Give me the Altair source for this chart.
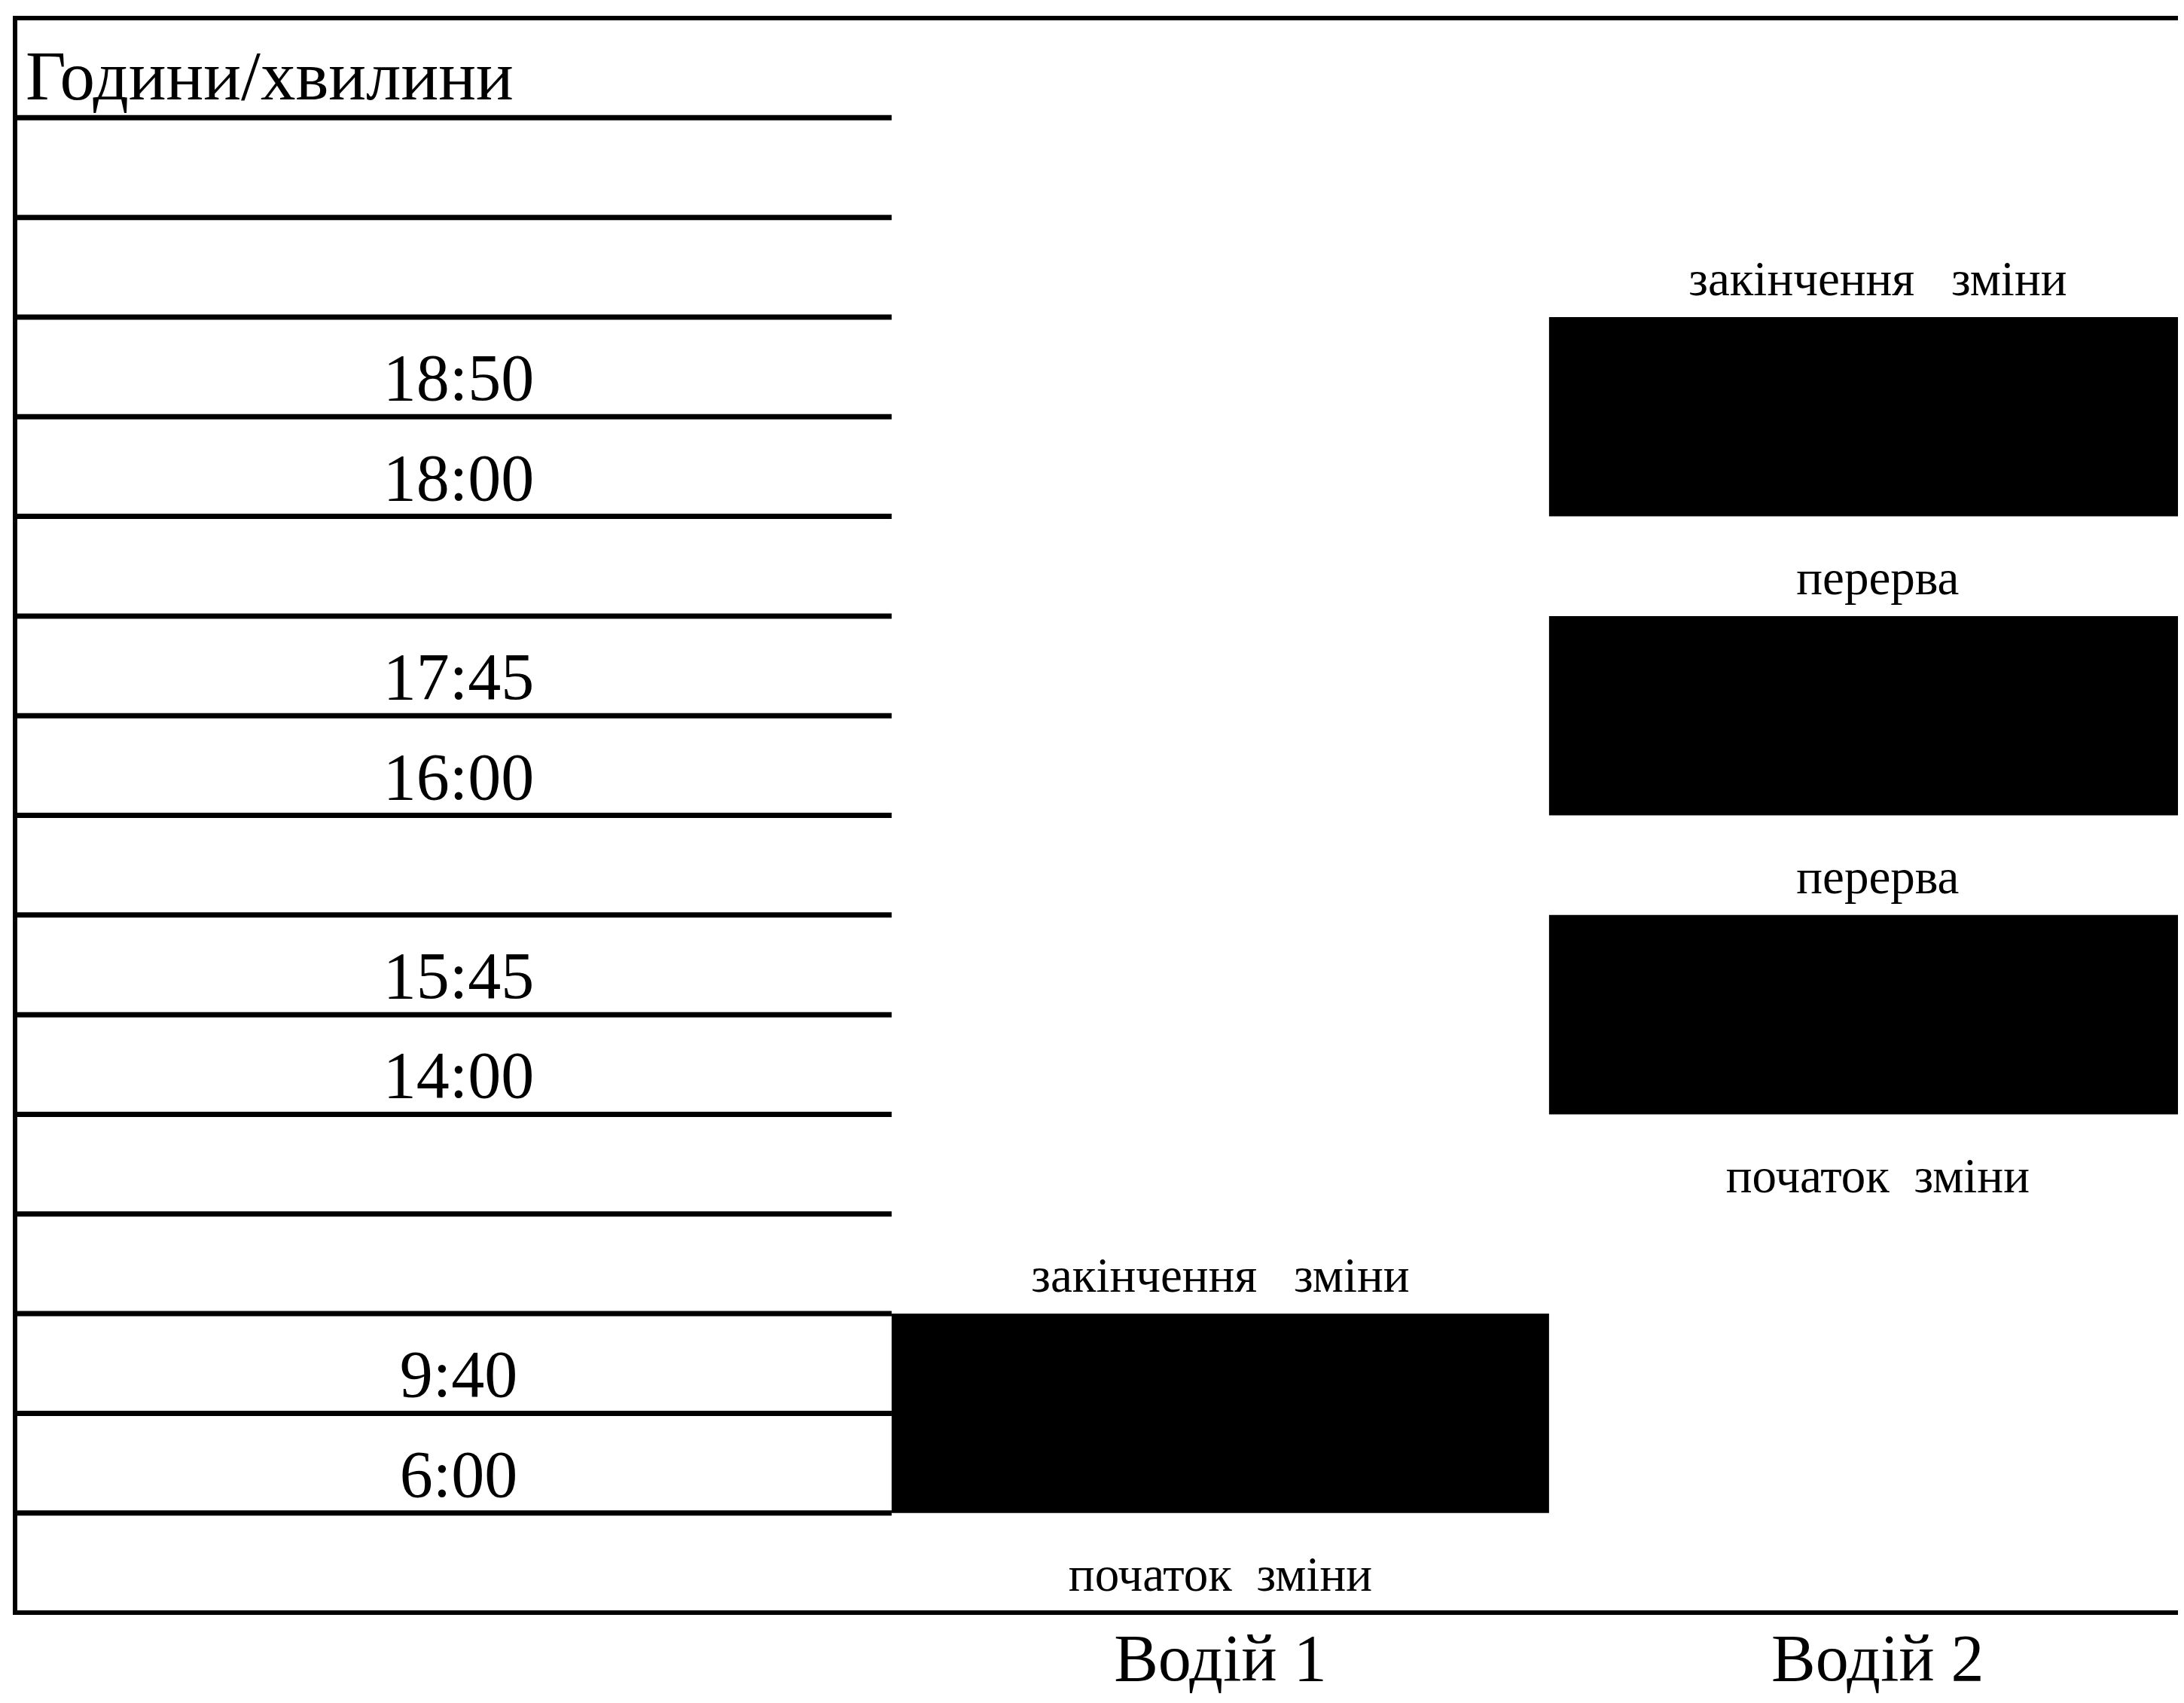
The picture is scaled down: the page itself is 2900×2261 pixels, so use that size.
import altair as alt
import pandas as pd

# ---- data ----
# row labels of the time column, from top to bottom
row_labels = ["Години/хвилини", "", "", "18:50", "18:00", "", "17:45", "16:00",
              "", "15:45", "14:00", "", "", "9:40", "6:00", ""]
drivers = ["Водій 1", "Водій 2"]
# work blocks of each driver as (first row label, last row label)
driver_shifts = {
    "Водій 1": [("6:00", "9:40")],
    "Водій 2": [("14:00", "15:45"), ("16:00", "17:45"), ("18:00", "18:50")],
}
start_text = "початок\u00a0\u00a0зміни"
end_text = "закінчення\u00a0\u00a0\u00a0зміни"
break_text = "перерва"
# column boundaries: time column, Водій 1, Водій 2
col_edges = [0, 4, 7, 10]
x_visible = 9.87

n_rows = len(row_labels)


def row_of(label):
    return n_rows - 1 - row_labels.index(label)


# ---- build tables ----
bars, notes, dlabels = [], [], []
for i, d in enumerate(drivers):
    x0, x1 = col_edges[i + 1], col_edges[i + 2]
    blocks = []
    for a, b in driver_shifts[d]:
        ra, rb = row_of(a), row_of(b)
        blocks.append((min(ra, rb), max(ra, rb) + 1))
    blocks.sort()
    for y0, y1 in blocks:
        bars.append({"x": x0, "x2": x1, "y": y0, "y2": y1})
    xc = (x0 + x1) / 2
    notes.append({"x": xc, "y": blocks[0][0] - 1, "t": start_text})
    for y0, y1 in blocks[:-1]:
        notes.append({"x": xc, "y": y1, "t": break_text})
    notes.append({"x": xc, "y": blocks[-1][1], "t": end_text})
    dlabels.append({"x": xc, "y": -1, "t": d})

bars = pd.DataFrame(bars)
notes = pd.DataFrame(notes)
dlabels = pd.DataFrame(dlabels)

times = pd.DataFrame([
    {"x": (col_edges[0] + col_edges[1]) / 2, "y": row_of(l), "t": l}
    for l in row_labels[1:] if l
])
header = pd.DataFrame([{"x": col_edges[0], "y": row_of(row_labels[0]), "t": row_labels[0]}])

hlines = pd.DataFrame([{"x": col_edges[0], "x2": col_edges[1], "y": r} for r in range(1, n_rows)])
border_h = pd.DataFrame([{"x": col_edges[0], "x2": col_edges[-1], "y": 0},
                         {"x": col_edges[0], "x2": col_edges[-1], "y": n_rows}])
border_v = pd.DataFrame([{"x": col_edges[0], "y": 0, "y2": n_rows}])

xs = alt.Scale(domain=[0, x_visible], nice=False, zero=False)
ys = alt.Scale(domain=[0, n_rows], nice=False, zero=False)
FONT = "Liberation Serif"

rects = alt.Chart(bars).mark_rect(color="black", clip=True).encode(
    x=alt.X("x:Q", scale=xs, axis=None), x2="x2", y=alt.Y("y:Q", scale=ys, axis=None), y2="y2")

rows = alt.Chart(hlines).mark_rule(color="black", strokeWidth=7).encode(
    x=alt.X("x:Q", scale=xs, axis=None), x2="x2", y=alt.Y("y:Q", scale=ys, axis=None))

bh = alt.Chart(border_h).mark_rule(color="black", strokeWidth=6).encode(
    x=alt.X("x:Q", scale=xs, axis=None), x2="x2", y=alt.Y("y:Q", scale=ys, axis=None))

bv = alt.Chart(border_v).mark_rule(color="black", strokeWidth=6, strokeCap="square").encode(
    x=alt.X("x:Q", scale=xs, axis=None), y=alt.Y("y:Q", scale=ys, axis=None), y2="y2")

time_text = alt.Chart(times).mark_text(font=FONT, fontSize=88, align="center",
                                       baseline="alphabetic", dx=7, dy=-22, color="black").encode(
    x=alt.X("x:Q", scale=xs, axis=None), y=alt.Y("y:Q", scale=ys, axis=None), text="t:N")

head_text = alt.Chart(header).mark_text(font=FONT, fontSize=93, align="left",
                                        baseline="alphabetic", dx=14, dy=-24, color="black").encode(
    x=alt.X("x:Q", scale=xs, axis=None), y=alt.Y("y:Q", scale=ys, axis=None), text="t:N")

note_text = alt.Chart(notes).mark_text(font=FONT, fontSize=65, align="center",
                                       baseline="alphabetic", dy=-29, color="black").encode(
    x=alt.X("x:Q", scale=xs, axis=None), y=alt.Y("y:Q", scale=ys, axis=None), text="t:N")

drv_text = alt.Chart(dlabels).mark_text(font=FONT, fontSize=88, align="center",
                                        baseline="alphabetic", dy=-42, color="black").encode(
    x=alt.X("x:Q", scale=xs, axis=None), y=alt.Y("y:Q", scale=ys, axis=None), text="t:N")

chart = alt.layer(rects, rows, bh, bv, time_text, head_text, note_text, drv_text).properties(
    width=2872, height=2117,
    autosize=alt.AutoSizeParams(type="none"),
    padding={"left": 12, "top": 16, "right": 0, "bottom": 112},
    background="white",
).configure_view(stroke=None)

chart.save("out.html", embed_options={"renderer": "svg", "actions": False})
